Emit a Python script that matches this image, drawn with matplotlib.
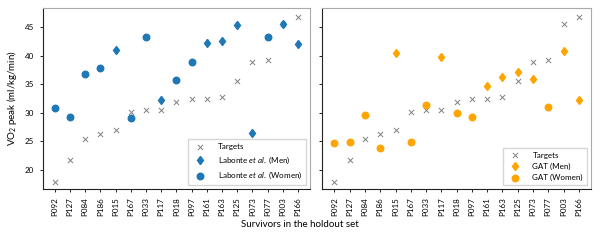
import matplotlib
matplotlib.use("Agg")
import matplotlib.pyplot as plt
import numpy as np

plt.rcParams['font.family'] = ['Lato', 'DejaVu Sans']
plt.rcParams['mathtext.fontset'] = 'custom'
plt.rcParams['mathtext.rm'] = 'Lato'
plt.rcParams['mathtext.it'] = 'Lato:italic'

participants = ["P092", "P127", "P084", "P186", "P015", "P167", "P033", "P117", "P018",
                "P097", "P161", "P163", "P125", "P073", "P077", "P003", "P166"]
targets = [17.9, 21.7, 25.4, 26.3, 26.9, 30.1, 30.5, 30.4, 31.8, 32.4, 32.4, 32.7,
           35.5, 38.9, 39.3, 45.6, 46.8]
is_man = [False, False, False, False, True, False, False, True, False, False, True, True,
          True, True, False, True, True]
labonte = [30.9, 29.3, 36.8, 37.9, 41.0, 29.1, 43.2, 32.3, 35.7, 38.95, 42.3, 42.5,
           45.35, 26.5, 43.2, 45.6, 42.1]
gat = [24.75, 24.9, 29.55, 23.8, 40.5, 24.9, 31.3, 39.8, 30.0, 29.3, 34.7, 36.25,
       37.2, 35.95, 31.0, 40.8, 32.25]
men_err = 0.55

fig = plt.figure(figsize=(6, 2.4), dpi=100)
ax1 = fig.add_axes([0.071, 0.2125, 0.446, 0.755])
ax2 = fig.add_axes([0.537, 0.2125, 0.448, 0.755], sharey=ax1)

x = np.arange(len(participants))
men = np.array(is_man)

def draw(ax, preds, color, name):
    preds = np.array(preds)
    h1 = ax.scatter(x, targets, marker='x', color='gray', s=14, linewidths=0.7, label='Targets', zorder=3)
    h2 = ax.errorbar(x[men], preds[men], yerr=men_err, fmt='d', color=color, markersize=4.5,
                     elinewidth=1.0, capsize=0, label=name + ' (Men)', zorder=4)
    h3 = ax.scatter(x[~men], preds[~men], marker='o', color=color, s=22, label=name + ' (Women)', zorder=4)
    ax.set_xticks(x)
    ax.set_xticklabels(participants, rotation=90, fontsize=5.8)
    ax.tick_params(axis='both', labelsize=5.8, length=2.5, width=0.6)
    for s in ['top', 'right']:
        ax.spines[s].set_color('#aaaaaa')
    for s in ['left', 'bottom']:
        ax.spines[s].set_color('#222222')
    for s in ax.spines.values():
        s.set_linewidth(0.8)
    ax.legend([h1, h2, h3], ['Targets', name + ' (Men)', name + ' (Women)'],
              loc='lower right', fontsize=5.8, frameon=True, fancybox=False,
              edgecolor='#cccccc', borderpad=0.5, labelspacing=0.5, handletextpad=1.2)
    ax.set_xlim(-0.8, 16.8)

draw(ax1, labonte, '#1f77b4', r'Labonte $\it{et\ al.}$')
draw(ax2, gat, 'orange', 'GAT')
ax1.set_ylim(16.6, 48.4)
ax1.set_yticks([20, 25, 30, 35, 40, 45])
plt.setp(ax2.get_yticklabels(), visible=False)
ax1.set_ylabel(r'VO$_2$ peak (ml/kg/min)', fontsize=7)
fig.text(0.5, 0.065, 'Survivors in the holdout set', ha='center', va='center', fontsize=7)

fig.savefig('out.png', dpi=100)
